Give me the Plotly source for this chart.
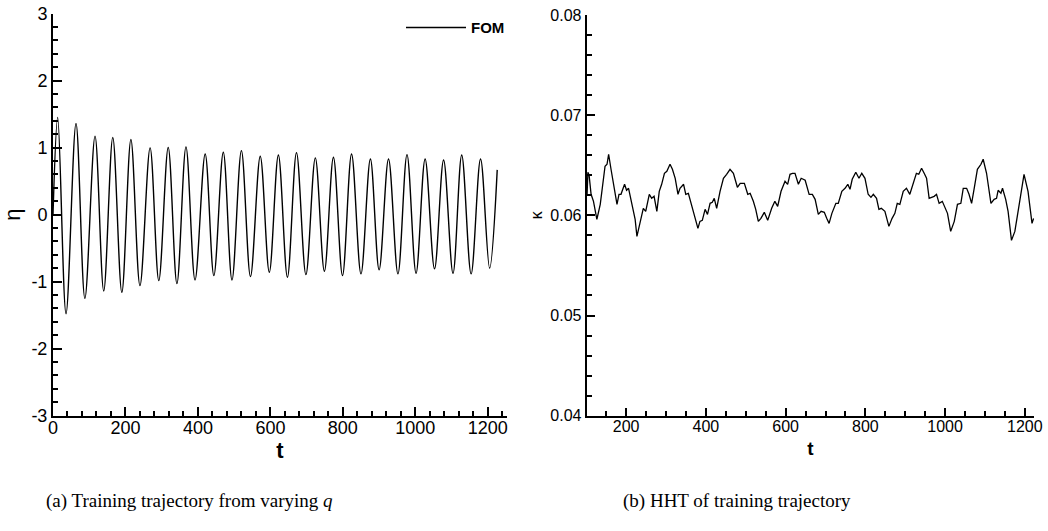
import plotly.graph_objs as go
from plotly.subplots import make_subplots

# (a) training trajectory: peaks / troughs
eta_t = [0, 13, 36, 63.5, 88, 116, 140, 165, 190, 215, 240, 268, 292, 318, 342, 367, 392,
         420, 444, 470, 494, 520, 545, 572, 597, 622, 647, 672, 698, 724, 749, 774, 799,
         824, 850, 876, 900, 926, 952, 977, 1002, 1027, 1053, 1078, 1104, 1128, 1154,
         1180, 1205, 1226]
eta = [0.0, 1.45, -1.48, 1.36, -1.25, 1.17, -1.14, 1.15, -1.16, 1.12, -1.06, 0.995, -0.985,
       1.0, -1.03, 1.01, -0.975, 0.905, -0.91, 0.93, -0.975, 0.955, -0.925, 0.87, -0.86,
       0.89, -0.935, 0.925, -0.895, 0.846, -0.845, 0.855, -0.91, 0.905, -0.885, 0.83,
       -0.825, 0.83, -0.885, 0.895, -0.875, 0.83, -0.81, 0.815, -0.875, 0.89, -0.885,
       0.83, -0.80, 0.667]

# (b) HHT of training trajectory
kappa_t = [102, 104, 107, 112, 118, 126.5, 135, 143, 147, 152, 156, 162, 171, 177, 182, 187,
           196, 201, 206, 214, 222.5, 227, 235, 243, 249, 258, 264, 270, 277, 283, 289, 296,
           302, 310, 316, 323, 330, 335, 344, 349.5, 356, 363, 371, 380, 385, 391, 398, 404,
           410.5, 416, 421, 427, 435.5, 444, 452, 460.5, 469, 479, 486, 496.5, 505, 511, 519,
           525, 531.5, 538, 546.5, 555, 565, 573, 580, 588.5, 598.5, 605, 611, 617, 623.5,
           632, 639, 649, 659, 667, 674, 682, 689, 697, 703, 709, 716, 726, 732, 741, 749,
           756, 761.5, 767, 776, 784, 791, 799, 807, 814, 820, 828, 834, 840, 849, 859, 867,
           874, 880, 886.5, 895, 903, 911.5, 920, 928, 934, 941, 947.5, 953.5, 960, 966,
           972.5, 978.5, 985, 993, 999.5, 1006, 1014, 1023, 1031, 1039.5, 1045.5, 1054, 1060,
           1066.5, 1073, 1081, 1090, 1095.5, 1104, 1110, 1115, 1123, 1129, 1133, 1140, 1144,
           1152, 1158, 1166.5, 1175, 1187.5, 1198, 1208, 1218, 1222]
kappa = [0.0621, 0.0643, 0.0640, 0.0621, 0.0614, 0.0596, 0.0611, 0.0634, 0.0649, 0.0651,
         0.0661, 0.0646, 0.0627, 0.0611, 0.0621, 0.0621, 0.0631, 0.0625, 0.0627, 0.0611,
         0.0596, 0.0579, 0.0592, 0.0607, 0.0604, 0.0621, 0.0617, 0.0619, 0.0604, 0.0624,
         0.0631, 0.0642, 0.0644, 0.0651, 0.0646, 0.0637, 0.0621, 0.0627, 0.0631, 0.0621,
         0.0622, 0.0612, 0.0602, 0.0587, 0.0594, 0.0595, 0.0606, 0.0601, 0.0612, 0.0613,
         0.0617, 0.0607, 0.0624, 0.0637, 0.0641, 0.0646, 0.0642, 0.0628, 0.0632, 0.0632,
         0.0621, 0.0622, 0.0614, 0.0606, 0.0594, 0.0597, 0.0603, 0.0595, 0.0607, 0.0614,
         0.0609, 0.0624, 0.0634, 0.0631, 0.0641, 0.0642, 0.0642, 0.0631, 0.0637, 0.0635,
         0.0621, 0.0621, 0.0616, 0.0601, 0.0604, 0.0603, 0.0597, 0.0592, 0.0602, 0.0612,
         0.0612, 0.0624, 0.0627, 0.0631, 0.0626, 0.0636, 0.0643, 0.0637, 0.0642, 0.0637,
         0.0621, 0.0618, 0.0621, 0.0617, 0.0606, 0.0607, 0.0604, 0.0589, 0.0597, 0.0602,
         0.0612, 0.0611, 0.0624, 0.0627, 0.0621, 0.0632, 0.0642, 0.0641, 0.0647, 0.0642,
         0.0637, 0.0617, 0.0618, 0.0619, 0.0621, 0.0612, 0.0614, 0.0607, 0.0602, 0.0584,
         0.0594, 0.0611, 0.0612, 0.0627, 0.0627, 0.0621, 0.0612, 0.0627, 0.0646, 0.0651,
         0.0656, 0.0642, 0.0627, 0.0612, 0.0616, 0.0617, 0.0625, 0.0622, 0.0627, 0.0616,
         0.0604, 0.0575, 0.0584, 0.0614, 0.0641, 0.0624, 0.0592, 0.0597]

# tick labels (plain hyphen minus like the original)
eta_ticks = [-3, -2, -1, 0, 1, 2, 3]
eta_ticktext = ['-3', '-2', '-1', '0', '1', '2', '3']
kappa_ticks = [0.04, 0.05, 0.06, 0.07, 0.08]
kappa_ticktext = ['0.04', '0.05', '0.06', '0.07', '0.08']

W, H = 1048, 531
font = 'Liberation Sans, Arial, sans-serif'

fig = make_subplots(rows=1, cols=2)

fig.add_trace(go.Scatter(x=eta_t, y=eta, mode='lines', name='<b>FOM</b>',
                         line=dict(color='black', width=1.4, shape='spline', smoothing=1),
                         showlegend=True), 1, 1)
fig.add_trace(go.Scatter(x=kappa_t, y=kappa, mode='lines', name='kappa',
                         line=dict(color='black', width=1.3),
                         showlegend=False), 1, 2)

axis_style = dict(showgrid=False, zeroline=False, showline=True, linecolor='black',
                  linewidth=2, ticks='inside', tickcolor='black', tickwidth=2,
                  mirror=False, color='black', automargin=False)

# left panel
fig.update_xaxes(axis_style, domain=[53 / W, 507 / W], range=[0, 1253], dtick=200, tick0=0,
                 ticklen=9, tickfont=dict(size=18, family=font), ticklabelstandoff=-5,
                 minor=dict(dtick=40, ticks='inside', ticklen=5, tickcolor='black', tickwidth=1.5),
                 title=dict(text='<b>t</b>', font=dict(size=22, family=font), standoff=0),
                 row=1, col=1)
fig.update_yaxes(axis_style, domain=[1 - 415.7 / H, 1 - 13.5 / H], range=[-3, 3],
                 tickvals=eta_ticks, ticktext=eta_ticktext, ticklen=9,
                 tickfont=dict(size=18, family=font),
                 minor=dict(dtick=0.2, ticks='inside', ticklen=5, tickcolor='black', tickwidth=1.5),
                 title=dict(text='η', font=dict(size=22, family=font), standoff=10),
                 row=1, col=1)

# right panel
fig.update_xaxes(axis_style, domain=[586.7 / W, 1034 / W], range=[101, 1223], dtick=200, tick0=0,
                 ticklen=8, tickfont=dict(size=16, family=font), ticklabelstandoff=-5,
                 minor=dict(dtick=50, ticks='inside', ticklen=5, tickcolor='black', tickwidth=1.5),
                 title=dict(text='<b>t</b>', font=dict(size=19, family=font), standoff=8),
                 row=1, col=2)
fig.update_yaxes(axis_style, domain=[1 - 415.7 / H, 1 - 15 / H], range=[0.04, 0.08],
                 tickvals=kappa_ticks, ticktext=kappa_ticktext, ticklen=8,
                 tickfont=dict(size=16, family=font),
                 minor=dict(dtick=0.002, ticks='inside', ticklen=5, tickcolor='black', tickwidth=1.5),
                 title=dict(text='κ', font=dict(size=16, family=font), standoff=4),
                 row=1, col=2)

# sub-captions
captions = ['(a) Training trajectory from varying <i>q</i>', '(b) HHT of training trajectory']
cap_x = [189, 737]
for txt, cx in zip(captions, cap_x):
    fig.add_annotation(text=txt, x=cx / W, y=1 - 501 / H, xref='paper', yref='paper',
                       xanchor='center', yanchor='middle', showarrow=False,
                       font=dict(family='Liberation Serif, DejaVu Serif, serif', size=19,
                                 color='black'))

fig.update_layout(
    width=W, height=H,
    margin=dict(l=0, r=0, t=0, b=0, autoexpand=False),
    plot_bgcolor='white', paper_bgcolor='white',
    font=dict(family=font, color='black'),
    legend=dict(x=510 / W, y=1 - 27.7 / H, xanchor='right', yanchor='middle',
                bgcolor='rgba(0,0,0,0)', font=dict(size=15, family=font), itemwidth=60),
)

# page body has a default 8px margin; drop it so the figure sits at the window corner
fig.write_html("out.html", config={'displayModeBar': False},
               post_script="document.body.style.margin='0';document.body.style.overflow='hidden';")
